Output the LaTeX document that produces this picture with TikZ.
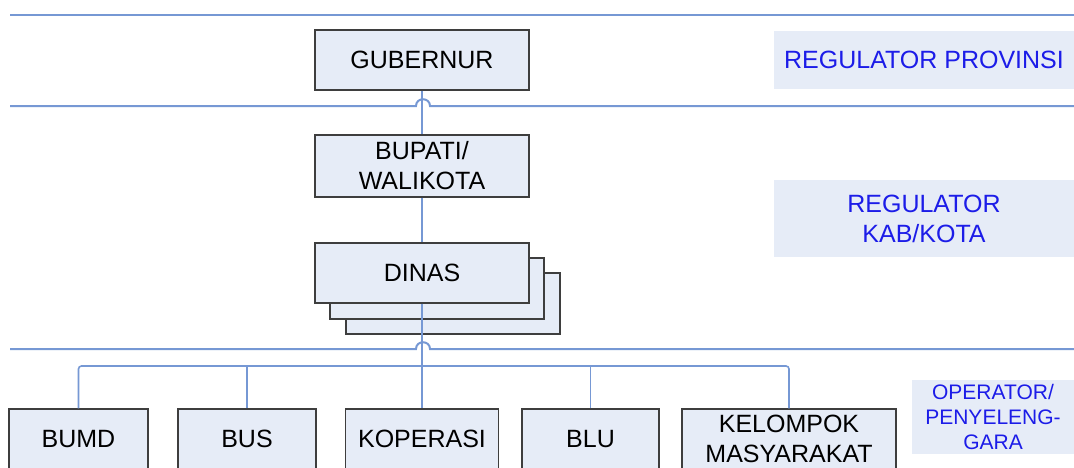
\documentclass[tikz,border=0pt]{standalone}
\usepackage{fontspec}
\setmainfont{Liberation Sans}
\usetikzlibrary{positioning}
\definecolor{cfill}{RGB}{230,236,247}
\definecolor{cline}{RGB}{118,152,212}
\definecolor{cedge}{RGB}{62,62,62}
\definecolor{clabel}{RGB}{28,28,232}

\begin{document}
\begin{tikzpicture}[x=1pt,y=-1pt,
  box/.style={draw=cedge, fill=cfill, line width=1.4pt, align=center, inner sep=0pt,
              font=\fontsize{25}{30}\selectfont},
  tag/.style={fill=cfill, text=clabel, align=center, inner sep=0pt,
              font=\fontsize{25}{30}\selectfont},
  link/.style={draw=cline, line width=1.6pt},
  sep/.style={draw=cline, line width=2pt}]
\clip (0,0) rectangle (1074,467);
\fill[white] (0,0) rectangle (1074,467);
% level separators, hopping over the main line
\draw[sep] (10,15) -- (1074,15);
\draw[sep] (10,106) -- (416,106) .. controls (416,97) and (430,97) .. (430,106) -- (1074,106);
\draw[sep] (10,349) -- (416,349) .. controls (416,340) and (430,340) .. (430,349) -- (1074,349);
% regulators
\node[box, minimum width=214pt, minimum height=60pt] (gub) at (422,60) {GUBERNUR};
\node[box, minimum width=214pt, minimum height=62pt] (bup) at (422,166) {BUPATI/\\WALIKOTA};
\node[box, minimum width=214pt, minimum height=61pt] (din3) at (453,303.5) {};
\node[box, minimum width=214pt, minimum height=61pt] (din2) at (437,288.5) {};
\node[box, minimum width=214pt, minimum height=60pt] (din) at (422,273) {DINAS};
% operators
\node[box, minimum width=139pt, minimum height=60pt] (bumd) at (78.5,439) {BUMD};
\node[box, minimum width=138pt, minimum height=60pt] (bus) at (247,439) {BUS};
\node[box, minimum width=153pt, minimum height=60pt] (kop) at (422,439) {KOPERASI};
\node[box, minimum width=137pt, minimum height=60pt] (blu) at (590.5,439) {BLU};
\node[box, minimum width=214pt, minimum height=60pt] (kel) at (789,439) {KELOMPOK\\MASYARAKAT};
% level labels
\node[tag, minimum width=300pt, minimum height=58pt] (rprov) at (924,60) {REGULATOR PROVINSI};
\node[tag, minimum width=300pt, minimum height=77pt] (rkab) at (924,218.5) {REGULATOR\\KAB/KOTA};
\node[tag, minimum width=162pt, minimum height=74pt, font=\fontsize{21}{25}\selectfont]
  (rop) at (993,417) {OPERATOR/\\PENYELENG-\\GARA};
% connectors
\draw[link] (gub) -- (bup);
\draw[link] (bup) -- (din);
\draw[link] (din.south) -- (kop.north);
\coordinate (rail) at (0,366);
\draw[link, rounded corners=3pt] (bumd.north) |- (rail -| kel.north) -- (kel.north);
\foreach \n in {bus,blu}
  \draw[link] (\n.north) -- (\n.north |- rail);
\end{tikzpicture}
\end{document}
